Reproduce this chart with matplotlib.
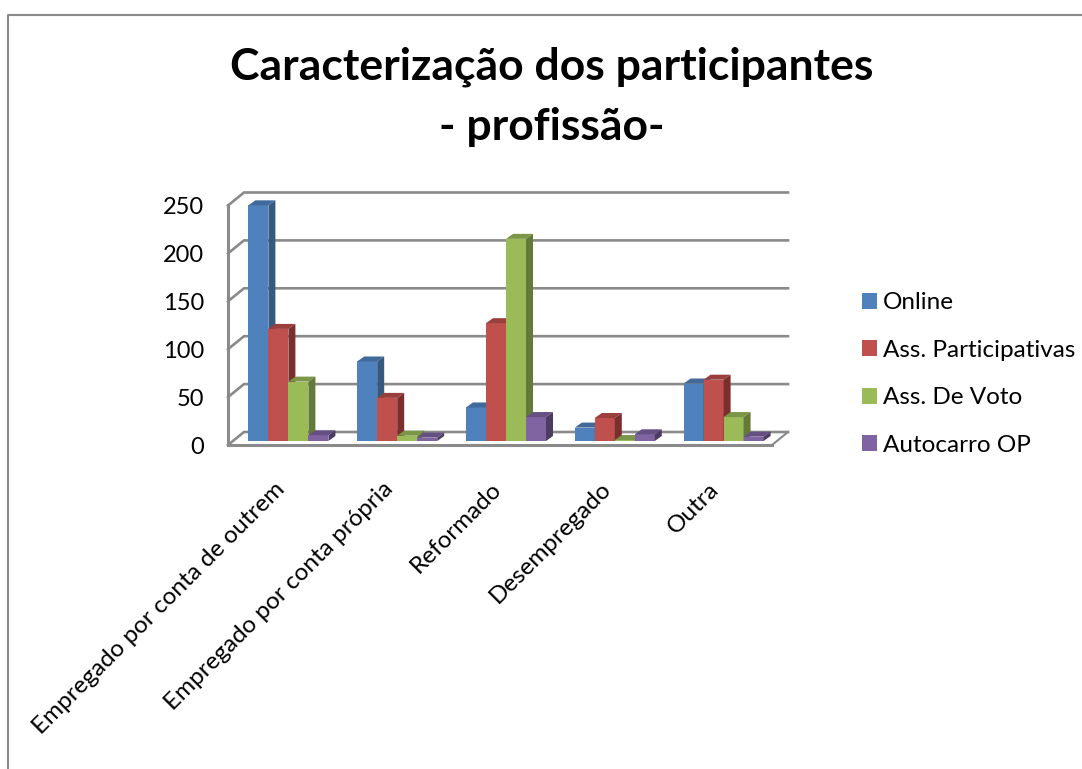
import matplotlib
matplotlib.use('Agg')
import matplotlib.pyplot as plt
from matplotlib.lines import Line2D
from matplotlib.transforms import ScaledTranslation

plt.rcParams['font.family'] = ['Lato', 'DejaVu Sans']

categories = ['Empregado por conta de outrem', 'Empregado por conta própria',
              'Reformado', 'Desempregado', 'Outra']
series_names = ['Online', 'Ass. Participativas', 'Ass. De Voto', 'Autocarro OP']
online = [246, 83, 35, 14, 60]
participativas = [117, 45, 123, 24, 64]
voto = [62, 5.5, 211, 1, 25]
autocarro = [6, 3.5, 25, 7, 4.5]
y_ticks = [0, 50, 100, 150, 200, 250]

front_colors = ['#4F81BD', '#C0504D', '#9BBB59', '#8064A2']
top_colors = ['#41699A', '#9A3F3C', '#7C9647', '#664F82']
side_colors = ['#36597F', '#7A2F2D', '#647A39', '#4C3C61']
grid_color = '#8A8A8A'

fig = plt.figure(figsize=(10.82, 7.69), dpi=100)
ax = fig.add_axes([228 / 1082, (769 - 445) / 769, 544 / 1082, 239.5 / 769])
ax.set_xlim(0, 5)
ax.set_ylim(0, 250)

# pixel sizes in data units, for the fake 3D depth
px_x = 5 / 544
px_y = 250 / 239.5
wall_dx, wall_dy = 16 * px_x, 13 * px_y
bar_dx, bar_dy = 7 * px_x, 5 * px_y
floor = 4 * px_y
bar_w = 20 * px_x
shift = 6 * px_x

# back wall grid and the slanted bits on the side wall
for v in y_ticks:
    ax.plot([0, wall_dx, 5 + wall_dx], [v, v + wall_dy, v + wall_dy], color=grid_color,
            lw=1.9, clip_on=False, zorder=1, solid_joinstyle='miter')
ax.plot([5, 5 + wall_dx], [0, wall_dy], color=grid_color, lw=1.5, clip_on=False, zorder=1)

# bars: front face, then top and side
for j, vals in enumerate([online, participativas, voto, autocarro]):
    for i, v in enumerate(vals):
        x = i + 0.5 + shift + (j - 2) * bar_w
        ax.bar(x, v, width=bar_w, bottom=floor, align='edge', color=front_colors[j],
               clip_on=False, zorder=3 + j, label=series_names[j] if i == 0 else None)
        t = v + floor
        ax.fill([x, x + bar_w, x + bar_w + bar_dx, x + bar_dx], [t, t, t + bar_dy, t + bar_dy],
                color=top_colors[j], lw=0, clip_on=False, zorder=3 + j)
        ax.fill([x + bar_w, x + bar_w + bar_dx, x + bar_w + bar_dx, x + bar_w],
                [floor, floor + bar_dy, t + bar_dy, t],
                color=side_colors[j], lw=0, clip_on=False, zorder=3 + j)

for s in ['top', 'right']:
    ax.spines[s].set_visible(False)
for s in ['left', 'bottom']:
    ax.spines[s].set_color(grid_color)
    ax.spines[s].set_linewidth(2.2)

ax.set_yticks(y_ticks)
ax.tick_params(axis='y', length=0, pad=17, labelsize=17, labelcolor='black')
ax.set_xticks([i + 0.5 for i in range(5)])
ax.set_xticklabels(categories, rotation=45, ha='right', va='top', rotation_mode='anchor')
ax.tick_params(axis='x', length=0, pad=24, labelsize=17.5, labelcolor='black')
for lab in ax.get_xticklabels():
    lab.set_transform(lab.get_transform() + ScaledTranslation(-0.09, 0, fig.dpi_scale_trans))

handles, labels = ax.get_legend_handles_labels()
fig.legend(handles, labels, loc='center left', bbox_to_anchor=(862 / 1082, 1 - 374 / 769),
           frameon=False, fontsize=17.5, borderpad=0, borderaxespad=0, labelspacing=1.09,
           handlelength=0.62, handleheight=0.62, handletextpad=0.25)

fig.text(552 / 1082, 1 - 67 / 769, 'Caracterização dos participantes', ha='center', va='center',
         fontsize=32, fontweight='bold', color='black')
fig.text(552 / 1082, 1 - 127 / 769, '- profissão-', ha='center', va='center',
         fontsize=32, fontweight='bold', color='black')

# chart area border, only top and left are in the crop
fig.add_artist(Line2D([8 / 1082, 8 / 1082, 1], [0, 1 - 15 / 769, 1 - 15 / 769],
                      color=grid_color, lw=1.5))

fig.savefig('out.png', dpi=100)
